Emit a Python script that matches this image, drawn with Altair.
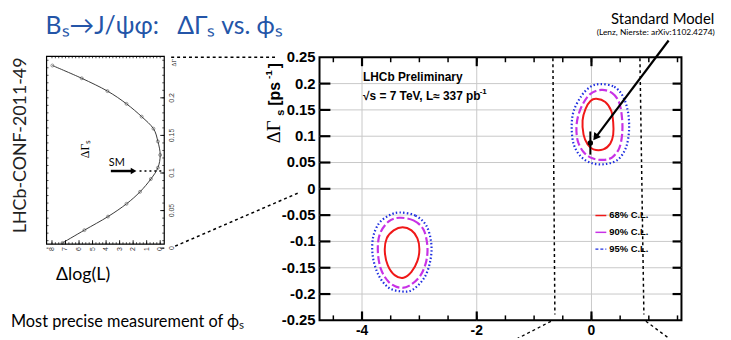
import altair as alt
import pandas as pd

# ------------------------------------------------------------------ data (main plot)
x_major = [-4, -2, 0]
x_major_labels = ["-4", "-2", "0"]
x_minor = [-4.5, -4, -3.5, -3, -2.5, -2, -1.5, -1, -0.5, 0, 0.5, 1, 1.5]
y_ticks = [0.25, 0.2, 0.15, 0.1, 0.05, 0, -0.05, -0.1, -0.15, -0.2, -0.25]
y_tick_labels = ["0.25", "0.2", "0.15", "0.1", "0.05", "0", "-0.05", "-0.1", "-0.15", "-0.2", "-0.25"]

c68_l_phi = [-3.293, -3.138, -3.034, -3.000, -3.034, -3.138, -3.276, -3.431, -3.552, -3.603, -3.569, -3.448]
c68_l_dg = [-0.073, -0.079, -0.094, -0.115, -0.137, -0.158, -0.169, -0.164, -0.145, -0.118, -0.094, -0.079]
c68_r_phi = [0.086, 0.241, 0.345, 0.379, 0.379, 0.328, 0.207, 0.034, -0.069, -0.138, -0.155, -0.103, -0.017]
c68_r_dg = [0.171, 0.165, 0.148, 0.126, 0.103, 0.086, 0.075, 0.075, 0.085, 0.103, 0.130, 0.152, 0.167]

c90_l_phi = [-3.345, -3.103, -2.931, -2.862, -2.879, -2.983, -3.172, -3.345, -3.534, -3.672, -3.724, -3.690, -3.534]
c90_l_dg = [-0.055, -0.060, -0.077, -0.107, -0.137, -0.165, -0.184, -0.188, -0.177, -0.152, -0.118, -0.086, -0.062]
c90_r_phi = [0.172, 0.362, 0.483, 0.534, 0.534, 0.483, 0.362, 0.207, 0.017, -0.138, -0.241, -0.259, -0.190, -0.034]
c90_r_dg = [0.188, 0.182, 0.164, 0.133, 0.103, 0.077, 0.060, 0.055, 0.058, 0.070, 0.092, 0.122, 0.152, 0.179]

c95_l_phi = [-3.345, -3.069, -2.879, -2.793, -2.810, -2.914, -3.121, -3.310, -3.534, -3.707, -3.810, -3.810, -3.707, -3.534]
c95_l_dg = [-0.045, -0.051, -0.070, -0.103, -0.137, -0.169, -0.192, -0.195, -0.188, -0.165, -0.130, -0.094, -0.066, -0.051]
c95_r_phi = [0.155, 0.397, 0.552, 0.638, 0.655, 0.603, 0.466, 0.241, 0.000, -0.190, -0.310, -0.345, -0.310, -0.172, -0.017]
c95_r_dg = [0.199, 0.194, 0.175, 0.145, 0.111, 0.079, 0.056, 0.047, 0.049, 0.062, 0.085, 0.117, 0.148, 0.177, 0.194]

sm_phi = [-0.02]
sm_dg = [0.087]
sm_err = [0.022]

legend_labels = ["68% C.L.", "90% C.L.", "95% C.L."]

# ------------------------------------------------------------------ data (inset likelihood scan)
scan_dlogl = [7.97, 5.80, 3.90, 2.49, 1.37, 0.50, 0.17, 0.0, 0.17, 0.69, 1.49, 2.49, 3.86, 5.60, 7.22]
scan_dg = [0.243, 0.226, 0.209, 0.192, 0.175, 0.159, 0.142, 0.124, 0.107, 0.092, 0.075, 0.059, 0.042, 0.024, 0.007]
inset_x_ticks = [0, 1, 2, 3, 4, 5, 6, 7, 8]
inset_x_labels = ["0", "1", "2", "3", "4", "5", "6", "7", "8"]
inset_y_ticks = [0, 0.05, 0.1, 0.15, 0.2]
inset_y_labels = ["0", "0.05", "0.1", "0.15", "0.2"]
inset_x_minor = [i * 0.25 for i in range(33)]
inset_y_minor = [i * 0.01 for i in range(26)]

# ------------------------------------------------------------------ layout
W, H = 366, 266          # main plot area
OX, OY = 323, 56         # page position of plot origin
SANS = "Liberation Sans"
SLIDE = "Lato"
BLUE = "#2455a8"
NB = "\u00a0"

XS = alt.Scale(domain=[-4.741, 1.569], nice=False, zero=False)
YS = alt.Scale(domain=[-0.25, 0.25], nice=False, zero=False)

one = pd.DataFrame({"k": [0]})


def contour(phl, dgl, phr, dgr, color, width, dash=None):
    df = pd.concat([
        pd.DataFrame({"phi": phl, "dg": dgl, "island": "L", "i": range(len(phl))}),
        pd.DataFrame({"phi": phr, "dg": dgr, "island": "R", "i": range(len(phr))}),
    ])
    kw = dict(color=color, strokeWidth=width, interpolate="cardinal-closed")
    if dash:
        kw["strokeDash"] = dash
    return alt.Chart(df).mark_line(**kw).encode(
        x=alt.X("phi:Q", scale=XS, axis=None),
        y=alt.Y("dg:Q", scale=YS, axis=None),
        detail="island:N", order="i:Q")


def vticks(vals, y1, y2, width, xs=XS, field="v", color="black"):
    return alt.Chart(pd.DataFrame({field: vals})).mark_rule(color=color, strokeWidth=width).encode(
        x=alt.X(f"{field}:Q", scale=xs, axis=None), y=alt.value(y1), y2=alt.value(y2))


def hticks(vals, x1, x2, width, ys=YS, field="v", color="black"):
    return alt.Chart(pd.DataFrame({field: vals})).mark_rule(color=color, strokeWidth=width).encode(
        y=alt.Y(f"{field}:Q", scale=ys, axis=None), x=alt.value(x1), x2=alt.value(x2))


def xlabels(vals, labs, y, xs, field, **kw):
    return alt.Chart(pd.DataFrame({field: vals, "t": labs})).mark_text(**kw).encode(
        x=alt.X(f"{field}:Q", scale=xs, axis=None), y=alt.value(y), text="t:N")


def ylabels(vals, labs, x, ys, field, **kw):
    return alt.Chart(pd.DataFrame({field: vals, "t": labs})).mark_text(**kw).encode(
        y=alt.Y(f"{field}:Q", scale=ys, axis=None), x=alt.value(x), text="t:N")


def text(s, px, py, size, font=SLIDE, color="black", weight="normal", angle=0,
         align="left", baseline="middle"):
    return alt.Chart(one).mark_text(text=s, font=font, fontSize=size, color=color,
                                    fontWeight=weight, angle=angle, align=align,
                                    baseline=baseline).encode(
        x=alt.value(px - OX), y=alt.value(py - OY))


def seg(x1, y1, x2, y2, width=1.0, color="black", dash=None):
    kw = dict(color=color, strokeWidth=width)
    if dash:
        kw["strokeDash"] = dash
    return alt.Chart(one).mark_rule(**kw).encode(
        x=alt.value(x1 - OX), y=alt.value(y1 - OY), x2=alt.value(x2 - OX), y2=alt.value(y2 - OY))


def head(px, py, angle, size=60, shape="triangle-up"):
    return alt.Chart(one).mark_point(shape=shape, angle=angle, size=size, filled=True,
                                     color="black", opacity=1).encode(
        x=alt.value(px - OX), y=alt.value(py - OY))


# ------------------------------------------------------------------ main plot layers
inner_y = y_ticks[1:-1]
grid = [
    hticks(inner_y, 0, W, 1, color="#c8c8c8"),
    vticks(x_major, 0, H, 1, color="#c8c8c8"),
]
blue = contour(c95_l_phi, c95_l_dg, c95_r_phi, c95_r_dg, "#1f2fe0", 2.2, [1.5, 2.2])
mag = contour(c90_l_phi, c90_l_dg, c90_r_phi, c90_r_dg, "#c832e6", 2.2, [8, 3])
red = contour(c68_l_phi, c68_l_dg, c68_r_phi, c68_r_dg, "#f01818", 2.0)

sm_df = pd.DataFrame({"phi": sm_phi, "dg": sm_dg,
                      "lo": [a - b for a, b in zip(sm_dg, sm_err)],
                      "hi": [a + b for a, b in zip(sm_dg, sm_err)]})
sm_bar = alt.Chart(sm_df).mark_rule(color="black", strokeWidth=2).encode(
    x=alt.X("phi:Q", scale=XS, axis=None), y=alt.Y("lo:Q", scale=YS, axis=None), y2="hi:Q")
sm_pt = alt.Chart(sm_df).mark_point(filled=True, color="black", size=30, opacity=1).encode(
    x=alt.X("phi:Q", scale=XS, axis=None), y=alt.Y("dg:Q", scale=YS, axis=None))

lab_kw = dict(font=SANS, fontWeight="bold", color="black")
main = alt.layer(
    *grid, blue, mag, red,
    vticks(x_minor, H, H - 5, 1.5), vticks(x_major, H, H - 9, 2.2),
    vticks(x_minor, 0, 5, 1.5), vticks(x_major, 0, 9, 2.2),
    hticks(inner_y, 0, 11, 2.2), hticks(inner_y, W, W - 9, 2.2),
    sm_bar, sm_pt,
    ylabels(y_ticks, y_tick_labels, -4, YS, "v", align="right", baseline="middle",
            fontSize=15, **lab_kw),
    xlabels(x_major, x_major_labels, H + 4, XS, "v", align="center", baseline="top",
            fontSize=14, **lab_kw),
)

# ------------------------------------------------------------------ inset layers
XS_IN = alt.Scale(domain=[8.4, -0.3], range=[47 - OX, 166 - OX], nice=False, zero=False)
YS_IN = alt.Scale(domain=[0, 0.25], range=[249 - OY, 59 - OY], nice=False, zero=False)

scan = pd.DataFrame({"dlogl": scan_dlogl, "dg": scan_dg, "i": range(len(scan_dg))})
curve = alt.Chart(scan).mark_line(color="#222", strokeWidth=0.9, interpolate="cardinal").encode(
    x=alt.X("dlogl:Q", scale=XS_IN, axis=None), y=alt.Y("dg:Q", scale=YS_IN, axis=None),
    order="i:Q")
cpts = alt.Chart(scan).mark_point(shape="circle", size=9, color="#444", strokeWidth=0.8).encode(
    x=alt.X("dlogl:Q", scale=XS_IN, axis=None), y=alt.Y("dg:Q", scale=YS_IN, axis=None))

in_kw = dict(font=SANS, fontSize=7, color="#333", angle=270)
inset = alt.layer(
    curve, cpts,
    vticks(inset_x_minor, 245 - OY, 243 - OY, 0.7, xs=XS_IN, field="u"),
    vticks(inset_x_minor, 55 - OY, 57 - OY, 0.7, xs=XS_IN, field="u"),
    vticks(inset_x_ticks, 245 - OY, 241 - OY, 0.9, xs=XS_IN, field="u"),
    hticks(inset_y_minor, 166 - OX, 164 - OX, 0.7, ys=YS_IN, field="u"),
    hticks(inset_y_minor, 47 - OX, 49 - OX, 0.7, ys=YS_IN, field="u"),
    hticks(inset_y_ticks, 166 - OX, 162 - OX, 0.9, ys=YS_IN, field="u"),
    xlabels(inset_x_ticks, inset_x_labels, 245 - OY + 3, XS_IN, "u", align="right",
            baseline="middle", **in_kw),
    ylabels(inset_y_ticks, inset_y_labels, 166 - OX + 4, YS_IN, "u", align="center",
            baseline="top", **in_kw),
)

frame = alt.Chart(one).mark_rect(fillOpacity=0, stroke="black", strokeWidth=1.2).encode(
    x=alt.value(47 - OX), x2=alt.value(166 - OX), y=alt.value(55 - OY), y2=alt.value(245 - OY))

# ------------------------------------------------------------------ annotations
title_str = "Bₛ→J/ψφ:" + NB * 3 + "ΔΓₛ vs. ϕₛ"
ann = [
    frame,
    # slide title and notes
    text(title_str, 46, 24, 25, color=BLUE),
    text("Standard Model", 670, 17, 15, align="center"),
    text("(Lenz, Nierste: arXiv:1102.4274)", 663, 30, 8.5, align="center"),
    text("LHCb-CONF-2011-49", 21, 145, 18, color="#222", angle=270, align="center"),
    text("Δlog(L)", 84, 276, 18, align="center"),
    text("Most precise measurement of ϕₛ", 11, 324, 16.5),
    # inset decorations
    text("ΔΓₛ", 86, 158, 12, font="Liberation Serif", angle=270),
    text("ΔΓ", 176, 58, 6, font="Liberation Serif", angle=270, align="right"),
    text("SM", 118, 163, 11, align="center"),
    seg(112, 171, 133, 171, 2.5),
    head(135, 171, 0, size=45, shape="triangle-right"),
    seg(141, 171, 164, 171, 1.6, dash=[2, 3]),
    seg(173, 56, 278, 56, 1.5, dash=[3, 3]),
    seg(177, 247, 302, 193, 1.5, dash=[3, 3]),
    # main plot decorations
    text("ΔΓ", 283, 143, 19, font="Liberation Serif", angle=270, baseline="alphabetic"),
    text("s", 287, 115, 11, font=SANS, weight="bold", angle=270, baseline="alphabetic"),
    text("[ps", 283, 105, 16, font=SANS, weight="bold", angle=270, baseline="alphabetic"),
    text("-1", 275, 78, 10, font=SANS, weight="bold", angle=270, baseline="alphabetic"),
    text("]", 283, 67, 16, font=SANS, weight="bold", angle=270, baseline="alphabetic"),
    text("LHCb Preliminary", 367, 76, 12, font=SANS, weight="bold"),
    text("√s = 7 TeV, L≈ 337 pb", 367, 95, 12, font=SANS, weight="bold"),
    text("-1", 485, 91, 8, font=SANS, weight="bold"),
    seg(559, 57, 561, 316, 1.5, dash=[3, 3]),
    seg(647, 57, 651, 316, 1.5, dash=[3, 3]),
    seg(557, 323, 518, 343, 1.3, dash=[3, 3]),
    seg(653, 323, 683, 345, 1.3, dash=[3, 3]),
    seg(676, 39, 603, 136, 2.2),
    head(602, 137, 217, size=70),
    # legend
    seg(602, 216, 613, 216, 1.5, color="#f01818"),
    seg(602, 233, 613, 233, 1.5, color="#c832e6"),
    seg(602, 250, 613, 250, 1.2, color="#1f2fe0", dash=[3, 2]),
    text(legend_labels[0], 616, 216, 9.5, font=SANS, weight="bold"),
    text(legend_labels[1], 616, 233, 9.5, font=SANS, weight="bold"),
    text(legend_labels[2], 616, 250, 9.5, font=SANS, weight="bold"),
]
annotations = alt.layer(*ann)

chart = alt.layer(main, inset, annotations).resolve_scale(
    x="independent", y="independent"
).properties(
    width=W, height=H,
    autosize=alt.AutoSizeParams(type="none"),
    padding={"left": OX - 8, "top": OY - 8, "right": 42, "bottom": 16},
    background="white",
).configure_view(stroke="black", strokeWidth=2)

chart.save("out.html", embed_options={"renderer": "svg", "actions": False})
